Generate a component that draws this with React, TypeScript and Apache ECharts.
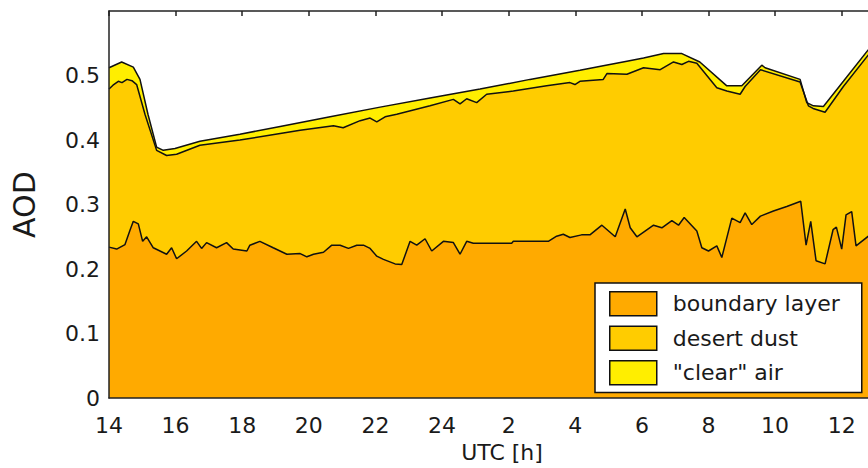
import React, { useEffect, useRef } from "react";
import * as echarts from "echarts";

// Hours since 0 UTC of day 1 (values > 24 belong to the next day)
const totalHours = [14.0, 14.38, 14.73, 14.93, 15.17, 15.43, 15.63, 15.98, 16.73, 17.93, 19.14, 20.64, 22.14, 23.64, 25.14, 26.64, 28.14, 28.84, 29.55, 30.05, 30.65, 31.2, 31.74, 32.55, 33.0, 33.6, 33.7, 34.75, 34.95, 35.15, 35.45, 36.05, 36.8];
// top of the "clear" air layer (total AOD)
const totalAOD = [0.512, 0.521, 0.513, 0.494, 0.44, 0.389, 0.384, 0.387, 0.398, 0.409, 0.421, 0.436, 0.451, 0.465, 0.479, 0.494, 0.508, 0.515, 0.522, 0.527, 0.534, 0.534, 0.521, 0.484, 0.484, 0.516, 0.512, 0.494, 0.458, 0.453, 0.452, 0.491, 0.54];

const dustHours = [14.0, 14.12, 14.28, 14.39, 14.54, 14.69, 14.83, 15.08, 15.43, 15.73, 16.03, 16.73, 17.93, 19.14, 19.74, 20.74, 21.03, 21.54, 21.84, 22.04, 22.29, 22.64, 23.64, 24.34, 24.54, 24.74, 25.04, 25.34, 26.14, 27.14, 27.84, 27.99, 28.14, 28.84, 28.95, 29.55, 30.05, 30.55, 30.95, 31.2, 31.4, 31.65, 32.25, 32.55, 32.95, 33.1, 33.56, 34.75, 35.0, 35.14, 35.5, 36.05, 36.8];
// top of the desert dust layer
const dustTopAOD = [0.479, 0.485, 0.491, 0.489, 0.494, 0.492, 0.486, 0.44, 0.384, 0.376, 0.378, 0.392, 0.4, 0.41, 0.415, 0.422, 0.419, 0.43, 0.434, 0.428, 0.436, 0.44, 0.453, 0.463, 0.456, 0.464, 0.458, 0.471, 0.476, 0.484, 0.489, 0.486, 0.491, 0.494, 0.503, 0.502, 0.512, 0.509, 0.521, 0.517, 0.522, 0.519, 0.481, 0.476, 0.471, 0.483, 0.509, 0.49, 0.453, 0.449, 0.443, 0.483, 0.532];

const boundaryHours = [14.0, 14.23, 14.48, 14.63, 14.73, 14.88, 15.01, 15.13, 15.33, 15.53, 15.73, 15.88, 16.03, 16.33, 16.63, 16.78, 16.93, 17.23, 17.53, 17.73, 18.14, 18.23, 18.53, 18.93, 19.34, 19.74, 19.94, 20.14, 20.44, 20.69, 20.94, 21.19, 21.44, 21.64, 21.84, 22.04, 22.24, 22.59, 22.79, 23.04, 23.24, 23.49, 23.69, 24.04, 24.34, 24.54, 24.74, 24.94, 26.09, 26.14, 27.19, 27.44, 27.64, 27.84, 28.19, 28.44, 28.8, 29.2, 29.5, 29.65, 29.85, 30.35, 30.6, 30.9, 31.1, 31.27, 31.65, 31.8, 32.0, 32.25, 32.4, 32.7, 32.95, 33.1, 33.3, 33.56, 33.95, 34.35, 34.77, 34.93, 35.07, 35.23, 35.5, 35.74, 35.84, 36.0, 36.13, 36.3, 36.43, 36.8];
const boundaryAOD = [0.234, 0.231, 0.238, 0.26, 0.274, 0.27, 0.243, 0.25, 0.233, 0.228, 0.223, 0.233, 0.216, 0.228, 0.243, 0.232, 0.241, 0.233, 0.241, 0.231, 0.228, 0.237, 0.243, 0.233, 0.223, 0.224, 0.219, 0.223, 0.226, 0.237, 0.237, 0.232, 0.237, 0.237, 0.232, 0.22, 0.215, 0.208, 0.207, 0.243, 0.237, 0.247, 0.228, 0.243, 0.241, 0.223, 0.243, 0.24, 0.24, 0.243, 0.243, 0.251, 0.254, 0.249, 0.253, 0.253, 0.268, 0.25, 0.293, 0.264, 0.25, 0.268, 0.264, 0.275, 0.268, 0.28, 0.259, 0.233, 0.228, 0.236, 0.218, 0.279, 0.272, 0.287, 0.269, 0.282, 0.29, 0.297, 0.305, 0.237, 0.274, 0.213, 0.208, 0.261, 0.265, 0.231, 0.284, 0.289, 0.236, 0.251];

const seriesNames = ["boundary layer", "desert dust", '"clear" air'];
const seriesColors = ["#FFAA00", "#FFCC00", "#FFEE00"];

const FONT = "DejaVu Sans";
const TEXT = "#1a1a1a";

const zip = (xs: number[], ys: number[]) => xs.map((x, i) => [x, ys[i]]);

export default function App() {
  const ref = useRef<HTMLDivElement>(null);
  useEffect(() => {
    if (!ref.current) return;
    const chart = echarts.init(ref.current, null, { renderer: "svg" });
    const axisLine = { show: true, lineStyle: { color: "#222", width: 1.5 } };
    const xFmt = (v: number) => String(v > 24 ? v - 24 : v);
    const mkSeries = (name: string, color: string, data: number[][]) => ({
      name,
      type: "line",
      data,
      symbol: "none",
      showSymbol: false,
      color,
      itemStyle: { color },
      lineStyle: { color: "#111", width: 1.5 },
      areaStyle: { color, opacity: 1 },
    });
    chart.setOption({
      animation: false,
      backgroundColor: "#fff",
      grid: { left: 109, top: 11, right: 5, bottom: 66 },
      legend: {
        orient: "vertical",
        left: 595,
        top: 283,
        data: seriesNames,
        icon: "rect",
        itemWidth: 47,
        itemHeight: 24,
        itemGap: 9,
        padding: [8, 22, 7, 14],
        backgroundColor: "#fff",
        borderColor: "#111",
        borderWidth: 1.5,
        itemStyle: { borderColor: "#111", borderWidth: 1.5 },
        textStyle: { fontFamily: FONT, fontSize: 22, color: TEXT, padding: [0, 0, 0, 11] },
      },
      xAxis: [
        {
          type: "value",
          min: 14,
          max: 37.6,
          interval: 2,
          position: "bottom",
          z: 5,
          axisLine,
          axisTick: { show: false },
          splitLine: { show: false },
          axisLabel: { formatter: xFmt, fontFamily: FONT, fontSize: 22, color: TEXT, margin: 16 },
          name: "UTC [h]",
          nameLocation: "middle",
          nameGap: 42,
          nameTextStyle: { fontFamily: FONT, fontSize: 22, color: TEXT },
        },
        {
          type: "value",
          min: 14,
          max: 37.6,
          interval: 2,
          position: "top",
          axisLine,
          axisTick: { show: true, inside: true, length: 5, lineStyle: { color: "#222", width: 1.5 } },
          axisLabel: { show: false },
          splitLine: { show: false },
        },
      ],
      yAxis: {
        type: "value",
        min: 0,
        max: 0.6,
        interval: 0.1,
        z: 5,
        axisLine,
        axisTick: { show: false },
        splitLine: { show: false },
        axisLabel: {
          fontFamily: FONT,
          fontSize: 22,
          color: TEXT,
          margin: 9,
          formatter: (v: number) => (v > 0.55 ? "" : v === 0 ? "0" : v.toFixed(1)),
        },
        name: "AOD",
        nameLocation: "middle",
        nameGap: 70,
        nameRotate: 90,
        nameTextStyle: { fontFamily: FONT, fontSize: 30, color: TEXT },
      },
      series: [
        mkSeries(seriesNames[2], seriesColors[2], zip(totalHours, totalAOD)),
        mkSeries(seriesNames[1], seriesColors[1], zip(dustHours, dustTopAOD)),
        mkSeries(seriesNames[0], seriesColors[0], zip(boundaryHours, boundaryAOD)),
      ],
    });
    return () => chart.dispose();
  }, []);
  return (
    <div style={{ position: "fixed", left: 0, top: 0, width: 868, height: 468, overflow: "hidden" }}>
      <div ref={ref} style={{ width: 900, height: 468 }} />
    </div>
  );
}
